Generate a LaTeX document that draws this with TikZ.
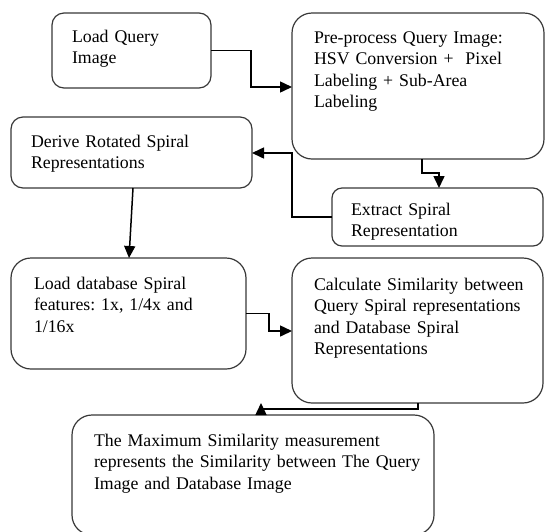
\documentclass[tikz,border=0pt]{standalone}
\usepackage{fontspec}
\setmainfont{Liberation Serif}
\frenchspacing
\usetikzlibrary{arrows.meta}
\tikzset{
  box/.style={draw=black!78, line width=1.2pt, rounded corners=#1, inner sep=0pt, outer sep=0pt, anchor=north west},
  box/.default=12pt,
  txt/.style={inner sep=0pt, outer sep=0pt, anchor=north west, align=left, text width=340pt, font=\fontsize{17.8}{21.5}\selectfont},
  conn/.style={draw=black, line width=1.5pt, -{Triangle[length=12pt,width=11pt]}},
}
\begin{document}
\begin{tikzpicture}[x=1pt,y=-1pt]
\clip (0,0) rectangle (545,531);
% boxes
\node[box] (A) at (52,13) [minimum width=159pt, minimum height=75pt] {};
\node[box=20pt] (B) at (292,13) [minimum width=252pt, minimum height=146pt] {};
\node[box] (C) at (11,117) [minimum width=241pt, minimum height=71pt] {};
\node[box=10pt] (D) at (332,188) [minimum width=211pt, minimum height=58pt] {};
\node[box=20pt] (E) at (11,258) [minimum width=235pt, minimum height=111pt] {};
\node[box=20pt] (F) at (292,258) [minimum width=251pt, minimum height=145pt] {};
\node[box=20pt] (G) at (72,415) [minimum width=362pt, minimum height=120pt] {};
% texts (first baseline minus strut height)
\node[txt] (tA) at (72,27) {\strut Load Query\\Image};
\node[txt] (tB) at (314,28) {\strut Pre-process Query Image:\\HSV Conversion +\ \ Pixel\\Labeling + Sub-Area\\Labeling};
\node[txt] (tC) at (31,132) {\strut Derive Rotated Spiral\\Representations};
\node[txt] (tD) at (351,200) {\strut Extract Spiral\\Representation};
\node[txt] (tE) at (34,274) {\strut Load database Spiral\\features: 1x, 1/4x and\\1/16x};
\node[txt] (tF) at (314,275) {\strut Calculate Similarity between\\Query Spiral representations\\and Database Spiral\\Representations};
\node[txt] (tG) at (94,431) {\strut The Maximum Similarity measurement\\represents the Similarity between The Query\\Image and Database Image};
% connectors
\coordinate (gtip) at (261,403);
\draw[conn] (A.east) -| (251,87) -- (B.west |- 251,87);
\draw[conn] (B.south -| 422,0) |- (439,173) -- (D.north -| 439,0);
\draw[conn] (D.west) -| (292,153) -- (C.east |- 292,153);
\draw[conn] (C.south -| 133,0) -- (E.north -| 129,0);
\draw[conn] (E.east) -| (269,331) -- (F.west |- 269,331);
\draw[conn] (F.south -| 418,0) |- (261,409) -- (gtip);
\end{tikzpicture}
\end{document}
